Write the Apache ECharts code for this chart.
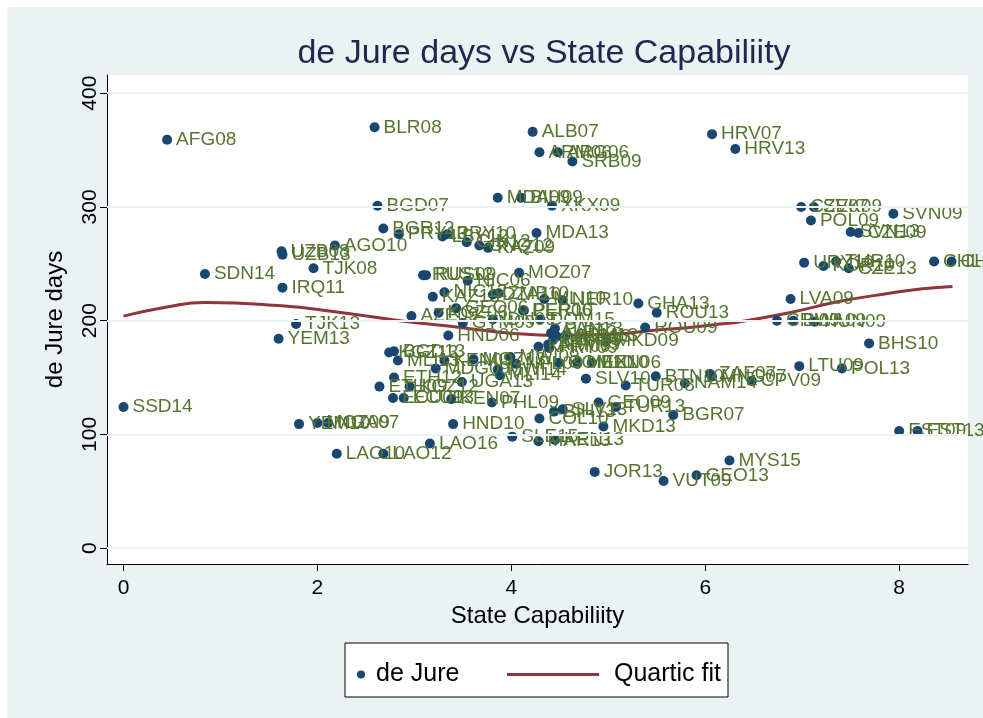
<!DOCTYPE html>
<html>
<head>
<meta charset="utf-8">
<script src="https://cdn.jsdelivr.net/npm/echarts@6/dist/echarts.min.js"></script>
<style>
    body { margin: 0; background: #ffffff; }
    #scatter_figure { width: 983px; height: 718px; }
</style>
</head>
<body>
<div id="scatter_figure"></div>
<script>
// country-year labels, state capability (x) and de jure days (y)
var names = ['AFG08', 'BLR08', 'BGD07', 'BGR12', 'PRY13', 'LBY12', 'PRY10', 'GIN12', 'GNQ12', 'KAZ09',
    'MDA13', 'UZB08', 'UZB13', 'AGO10', 'SDN14', 'TJK08', 'IRQ11', 'TJK13', 'YEM13', 'SSD14',
    'YEM10', 'MOZ09', 'NGA07', 'LAO10', 'LAO12', 'LAO16', 'HND10', 'SLE15', 'MAR13', 'KEN13',
    'COL10', 'BIH13', 'SLV13', 'GEO09', 'TUR13', 'MKD13', 'BGR07', 'JOR13', 'VUT09', 'GEO13',
    'MYS15', 'EST09', 'EST13', 'ALB07', 'ARM06', 'ARG06', 'SRB09', 'MDA09', 'BIH09', 'XKX09',
    'HRV07', 'HRV13', 'CZE07', 'SVK09', 'POL09', 'SVN09', 'SVN13', 'CZE09', 'URY10', 'KOR10',
    'TUR10', 'CZE13', 'CHL10', 'CHL13', 'LVA09', 'CRI09', 'BWA09', 'HUN09', 'BHS10', 'LTU09',
    'POL13', 'ZAF07', 'MNG07', 'CPV09', 'BTN10', 'NAM14', 'TUR08', 'SLV10', 'MOZ07', 'RUS12',
    'RUS09', 'NIC06', 'NIC12', 'KAZ13', 'DZA10', 'ZMB10', 'MLI10', 'NER10', 'GHA13', 'ROU13',
    'GEO06', 'KGZ06', 'AZE09', 'PER06', 'PER10', 'GTM09', 'IDN09', 'DOM15', 'HND06', 'PAN13',
    'ALB13', 'MNG13', 'ARM13', 'MKD09', 'ROU09', 'KHM09', 'ARM09', 'PRY09', 'SEN09', 'KGZ13',
    'BGD13', 'MLI13', 'KEN09', 'MDG09', 'MOZ13', 'MWI09', 'NPL09', 'MWI14', 'MLI14', 'COM10',
    'MEX10', 'BEN06', 'ETH12', 'ETH09', 'KGZ12', 'UGA13', 'ECU09', 'ECU13', 'KEN07', 'PHL09'];
var capability = [0.45, 2.59, 2.62, 2.68, 2.84, 3.29, 3.34, 3.54, 3.67, 3.76,
    4.26, 1.63, 1.64, 2.18, 0.84, 1.96, 1.64, 1.78, 1.60, 0.00,
    1.81, 2.00, 2.11, 2.20, 2.68, 3.16, 3.40, 4.01, 4.28, 4.45,
    4.29, 4.44, 4.53, 4.90, 5.08, 4.95, 5.67, 4.86, 5.57, 5.91,
    6.25, 8.00, 8.19, 4.22, 4.29, 4.48, 4.63, 3.86, 4.10, 4.42,
    6.07, 6.31, 6.99, 7.12, 7.09, 7.94, 7.50, 7.58, 7.02, 7.22,
    7.35, 7.48, 8.36, 8.54, 6.88, 6.74, 6.91, 7.13, 7.69, 6.97,
    7.41, 6.05, 6.07, 6.48, 5.49, 5.79, 5.18, 4.77, 4.08, 3.09,
    3.12, 3.55, 3.31, 3.19, 3.81, 3.87, 4.34, 4.53, 5.31, 5.50,
    3.43, 3.25, 2.97, 4.12, 4.13, 3.50, 3.81, 4.30, 3.35, 4.45,
    4.41, 4.47, 4.56, 4.98, 5.38, 4.28, 4.38, 4.39, 4.43, 2.74,
    2.79, 2.83, 3.31, 3.22, 3.61, 3.99, 4.05, 3.86, 3.88, 4.49,
    4.68, 4.83, 2.79, 2.64, 2.95, 3.49, 2.78, 2.89, 3.38, 3.80];
var deJure = [359, 370, 301, 281, 276, 274, 276, 269, 266, 264,
    277, 261, 258, 266, 241, 246, 229, 197, 184, 124,
    109, 110, 110, 83, 83, 92, 109, 98, 94, 95,
    114, 120, 122, 128, 124, 107, 117, 67, 59, 64,
    77, 103, 103, 366, 348, 348, 340, 308, 308, 301,
    364, 351, 300, 300, 288, 294, 278, 277, 251, 248,
    252, 246, 252, 252, 219, 200, 200, 199, 180, 160,
    158, 153, 151, 147, 151, 145, 143, 149, 242, 240,
    240, 235, 225, 221, 223, 224, 219, 218, 215, 207,
    211, 207, 204, 209, 209, 198, 201, 201, 187, 193,
    189, 186, 187, 182, 194, 177, 179, 176, 183, 172,
    173, 165, 165, 158, 166, 168, 162, 157, 152, 163,
    163, 163, 150, 142, 142, 146, 132, 132, 131, 128];

// quartic fit
var fitX = [0, 0.45, 0.84, 1.63, 2.16, 2.85, 3.47, 3.99, 4.5, 5.02, 5.53, 5.84, 6.15, 6.36, 6.87, 7.39, 7.9, 8.24, 8.55];
var fitY = [204, 212, 216, 213, 208, 200, 194, 189, 187, 188, 192, 194, 197, 199, 207, 217, 224, 228, 230];

var xTicks = [0, 2, 4, 6, 8];
var yTicks = [0, 100, 200, 300, 400];

var points = names.map(function (n, i) {
    return { name: n, value: [capability[i], deJure[i]] };
});
var fitLine = fitX.map(function (x, i) {
    return [x, fitY[i]];
});

var font = 'Liberation Sans, Arial, sans-serif';
var myChart = echarts.init(document.getElementById('scatter_figure'));
option = {
    backgroundColor: '#ffffff',
    animation: false,
    textStyle: { fontFamily: font },
    graphic: [
        {
            type: 'rect', z: -10, silent: true,
            shape: { x: 7, y: 7, width: 976, height: 711 },
            style: { fill: '#eaf2f3' }
        },
        {
            type: 'rect', z: 10, silent: true,
            shape: { x: 345, y: 643, width: 383, height: 54 },
            style: { fill: '#ffffff', stroke: '#000000', lineWidth: 1 }
        }
    ],
    title: {
        text: 'de Jure days vs State Capabiliity',
        left: 539,
        top: 32,
        textAlign: 'center',
        textStyle: { fontFamily: font, fontSize: 34, fontWeight: 'normal', color: '#1c2a4f' }
    },
    legend: [
        {
            data: [{ name: 'de Jure', icon: 'circle' }],
            left: 352,
            top: 657,
            z: 20,
            itemWidth: 20,
            itemHeight: 8,
            itemStyle: { opacity: 1 },
            textStyle: { fontFamily: font, fontSize: 25, color: '#000000' }
        },
        {
            data: [{ name: 'Quartic fit', icon: 'rect' }],
            left: 502,
            top: 657,
            z: 20,
            itemWidth: 92,
            itemHeight: 3,
            textStyle: { fontFamily: font, fontSize: 25, color: '#000000', padding: [0, 0, 0, 10] }
        }
    ],
    grid: {
        left: 107,
        right: 15,
        top: 75,
        bottom: 154,
        show: true,
        backgroundColor: '#ffffff',
        borderWidth: 0
    },
    xAxis: {
        type: 'value',
        min: -0.17,
        max: 8.71,
        name: 'State Capabiliity',
        nameLocation: 'middle',
        nameGap: 40,
        nameTextStyle: { fontFamily: font, fontSize: 24, color: '#000000' },
        axisLine: { show: true, onZero: false, lineStyle: { color: '#000000', width: 1 } },
        axisTick: { show: true, length: 7, customValues: xTicks, lineStyle: { color: '#000000' } },
        axisLabel: { customValues: xTicks, margin: 14, fontSize: 21, color: '#000000', fontFamily: font },
        splitLine: { show: false }
    },
    yAxis: {
        type: 'value',
        min: -14,
        max: 416,
        name: 'de Jure days',
        nameLocation: 'middle',
        nameGap: 40,
        nameTextStyle: { fontFamily: font, fontSize: 24, color: '#000000' },
        axisLine: { show: true, onZero: false, lineStyle: { color: '#000000', width: 1 } },
        axisTick: { show: true, length: 7, customValues: yTicks, lineStyle: { color: '#000000' } },
        axisLabel: { customValues: yTicks, rotate: 90, margin: 6, fontSize: 21, color: '#000000', fontFamily: font },
        splitLine: { show: false }
    },
    series: [
        {
            name: 'grid',
            type: 'line',
            data: [],
            z: 1,
            silent: true,
            markLine: {
                silent: true,
                symbol: 'none',
                label: { show: false },
                lineStyle: { color: '#eaf2f3', width: 2, type: 'solid' },
                data: yTicks.map(function (v) { return { yAxis: v }; })
            }
        },
        {
            name: 'de Jure',
            type: 'scatter',
            z: 3,
            symbol: 'circle',
            symbolSize: 10,
            itemStyle: { color: '#1a476f', opacity: 1 },
            label: {
                show: true,
                position: 'right',
                distance: 4,
                formatter: '{b}',
                fontSize: 19,
                fontFamily: font,
                color: '#55752f'
            },
            data: points
        },
        {
            name: 'Quartic fit',
            type: 'line',
            z: 2,
            symbol: 'none',
            smooth: true,
            lineStyle: { color: '#90353b', width: 3 },
            itemStyle: { color: '#90353b' },
            data: fitLine
        }
    ]
};
myChart.setOption(option);
</script>
</body>
</html>
